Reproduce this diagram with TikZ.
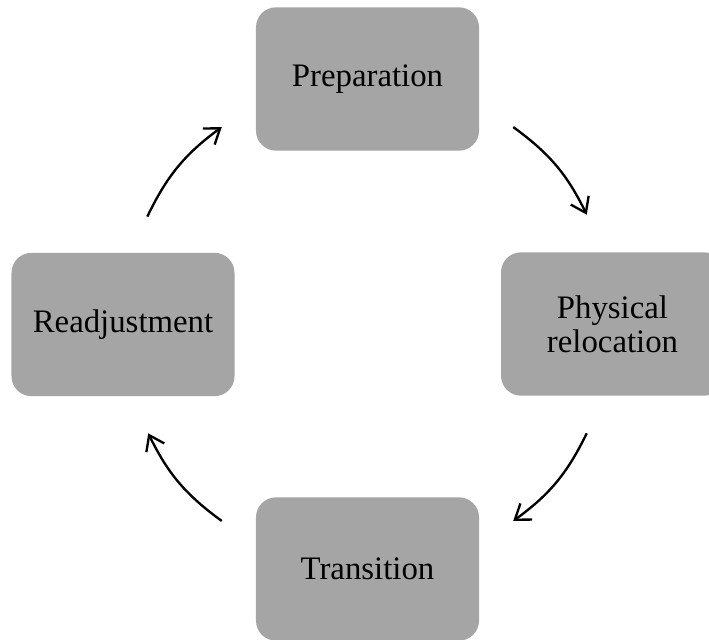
\documentclass[tikz,border=0pt]{standalone}
\usepackage{fontspec}
\setmainfont{Liberation Serif}
\usetikzlibrary{arrows.meta, calc}
\definecolor{stagegray}{HTML}{A5A5A5}

\begin{document}
\begin{tikzpicture}[x=0.03cm, y=0.03cm,
  stage/.style={fill=stagegray, rounded corners=0.6cm, minimum width=6.69cm, minimum height=4.3cm, align=center, font=\fontsize{28}{29}\selectfont},
  cyc/.style={line width=2pt, -{Straight Barb[length=12pt,width=17pt]}, bend left=14}]
\clip (0,0) rectangle (709,-639);
% the four stages
\node[stage](prep) at (367.5,-79){Preparation};
\node[stage](reloc) at (612.5,-324){Physical\\relocation};
\node[stage](trans) at (367.5,-569){Transition};
\node[stage](readj) at (123,-324.5){Readjustment};
% arrow ends on a circle round the middle
\coordinate(mid) at (367.5,-324);
\coordinate(r1) at ($(mid)+(154:245)$);
\coordinate(p1) at ($(mid)+(126.5:245)$);
\coordinate(p2) at ($(mid)+(53.5:245)$);
\coordinate(l1) at ($(mid)+(26.5:245)$);
\coordinate(l2) at ($(mid)+(-26.5:245)$);
\coordinate(t1) at ($(mid)+(-53.5:245)$);
\coordinate(t2) at ($(mid)+(-126.5:245)$);
\coordinate(r2) at ($(mid)+(-153.5:245)$);
\draw[cyc] (r1) to (p1);
\draw[cyc] (p2) to (l1);
\draw[cyc] (l2) to (t1);
\draw[cyc] (t2) to (r2);
\end{tikzpicture}
\end{document}
